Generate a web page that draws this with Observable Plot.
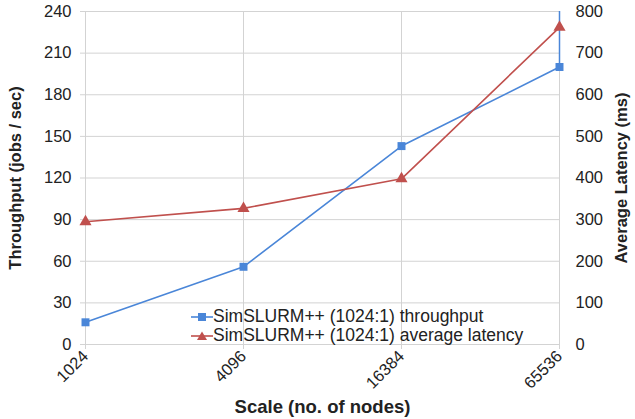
<!DOCTYPE html>
<html><head><meta charset="utf-8">
<script src="https://cdn.jsdelivr.net/npm/d3@7"></script>
<script src="https://cdn.jsdelivr.net/npm/@observablehq/plot@0.6"></script>
<style>
body{margin:0;background:#fff;font-family:"Liberation Sans",Arial,sans-serif;}
#wrap{position:relative;width:635px;height:419px;}
#legend{position:absolute;left:191px;top:307px;font-size:17.5px;color:#222;line-height:19px;}
.row{display:flex;align-items:center;white-space:nowrap;height:19px}
</style></head><body><div id="wrap"></div>
<script>
const nodes = ["1024", "4096", "16384", "65536"];
const throughput = [16, 56, 143, 200];
const latency = [295, 327, 398, 762];
const leftTicks = [0, 30, 60, 90, 120, 150, 180, 210, 240];
const rightTicks = [0, 100, 200, 300, 400, 500, 600, 700, 800];
const seriesNames = ["SimSLURM++ (1024:1) throughput", "SimSLURM++ (1024:1) average latency"];
const colors = ["#4a86d8", "#c0504d"];
const xTitle = "Scale (no. of nodes)";
const yLeftTitle = "Throughput (jobs / sec)";
const yRightTitle = "Average Latency (ms)";

const k = leftTicks[leftTicks.length - 1] / rightTicks[rightTicks.length - 1];
const rows = nodes.map((n, i) => ({n, t: throughput[i], l: latency[i] * k}));
const last = rows[rows.length - 1];
const grid = "#d3d3d3";

const plot = Plot.plot({
  width: 635, height: 419,
  marginLeft: 85, marginRight: 76, marginTop: 11, marginBottom: 75,
  style: {fontFamily: "'Liberation Sans', Arial, sans-serif", fontSize: "16.5px", color: "#222", background: "white"},
  x: {type: "point", domain: nodes, padding: 0},
  y: {domain: [leftTicks[0], leftTicks[leftTicks.length - 1]]},
  marks: [
    Plot.gridX(nodes, {stroke: grid, strokeOpacity: 1}),
    Plot.gridY(leftTicks, {stroke: grid, strokeOpacity: 1}),
    Plot.axisX(nodes, {tickRotate: -45, tickSize: 5, stroke: grid, tickPadding: 4, label: xTitle, labelAnchor: "center", labelArrow: "none", labelOffset: 68}),
    Plot.axisY(leftTicks, {anchor: "left", tickSize: 5, stroke: grid, tickPadding: 9, label: yLeftTitle, labelAnchor: "center", labelArrow: "none", labelOffset: 76}),
    Plot.axisY(rightTicks.map(v => v * k), {anchor: "right", tickSize: 0, tickPadding: 16, tickFormat: d => Math.round(d / k), label: yRightTitle, labelAnchor: "center", labelArrow: "none", labelOffset: 67}),
    Plot.ruleX([last], {x: "n", y1: "t", y2: () => leftTicks[leftTicks.length - 1], stroke: colors[0], strokeWidth: 1.5}),
    Plot.line(rows, {x: "n", y: "t", stroke: colors[0], strokeWidth: 1.6}),
    Plot.line(rows, {x: "n", y: "l", stroke: colors[1], strokeWidth: 1.6}),
    Plot.dot(rows, {x: "n", y: "t", symbol: "square", fill: colors[0], r: 4.5}),
    Plot.dot(rows, {x: "n", y: "l", symbol: "triangle", fill: colors[1], r: 4.5})
  ]
});
d3.select(plot).selectAll('g[aria-label$="axis label"] text').style("font-weight", "bold");
d3.select(plot).selectAll('g[aria-label="x-axis label"] text').style("font-size", "18.5px");
d3.select(plot).selectAll('g[aria-label="y-axis label"] text').style("font-size", "16.5px");
const wrap = document.getElementById("wrap");
wrap.appendChild(plot);

const legend = document.createElement("div");
legend.id = "legend";
seriesNames.forEach((name, i) => {
  const row = document.createElement("div");
  row.className = "row";
  const sym = i === 0
    ? `<rect x="7" y="2" width="8" height="8" fill="${colors[i]}"/>`
    : `<path d="M11,1.5 L16,10 L6,10 Z" fill="${colors[i]}"/>`;
  row.innerHTML = `<svg width="22" height="12"><line x1="0" x2="22" y1="6" y2="6" stroke="${colors[i]}" stroke-width="1.6"/>${sym}</svg><span>${name}</span>`;
  legend.appendChild(row);
});
wrap.appendChild(legend);
</script>
</body></html>
